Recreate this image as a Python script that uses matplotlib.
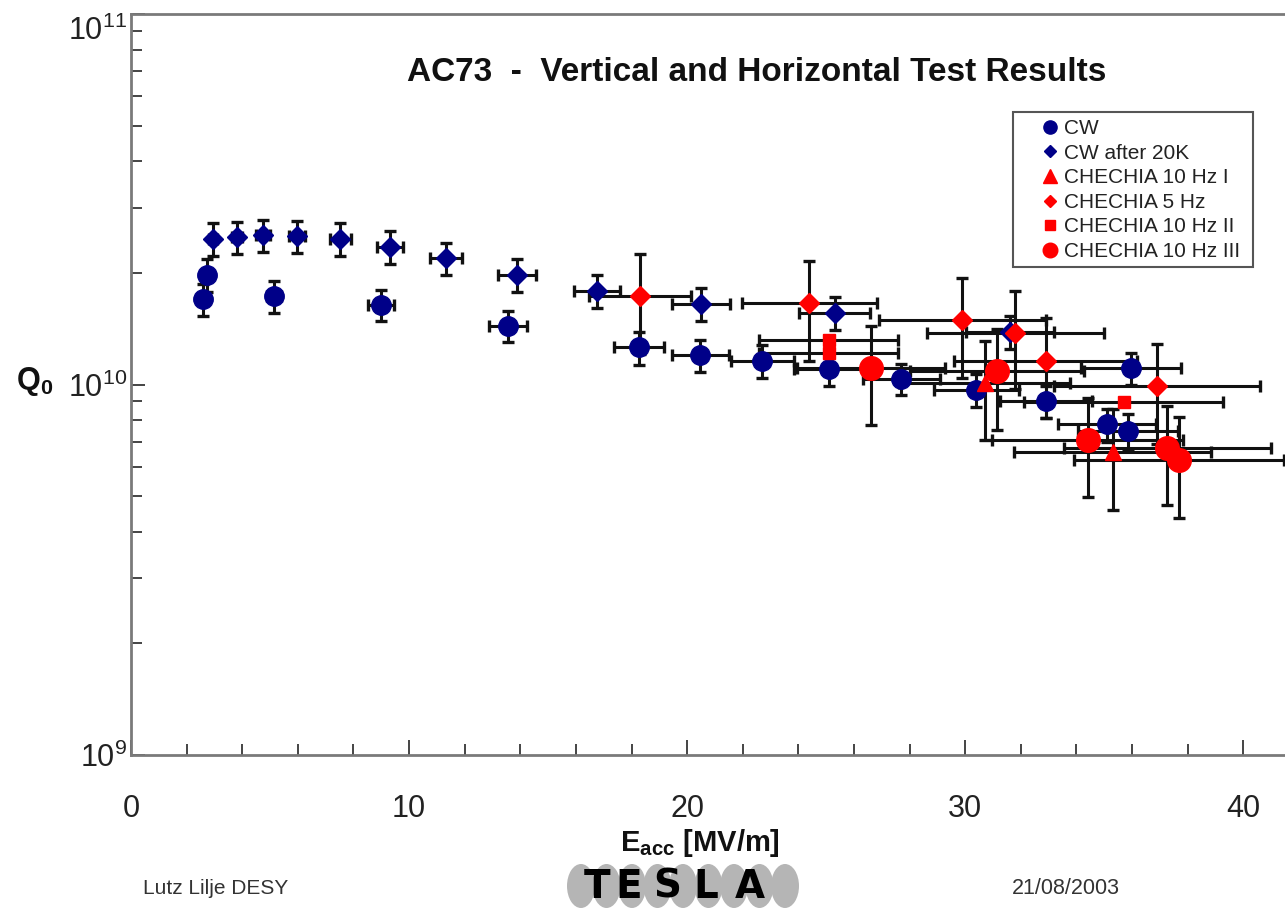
import matplotlib
matplotlib.use("Agg")
import matplotlib.pyplot as plt
from matplotlib.lines import Line2D
from matplotlib.patches import Rectangle, Ellipse
from matplotlib.ticker import MultipleLocator, LogLocator, NullFormatter

# ---------------------------------------------------------------- data
# CW (vertical test)
cw_e = [2.59, 2.73, 5.14, 8.99, 13.56, 18.27, 20.47, 22.7, 25.1, 27.7, 30.4, 32.9, 35.1, 35.85, 35.95]
cw_q = [1.70e10, 1.98e10, 1.73e10, 1.64e10, 1.44e10, 1.26e10, 1.20e10, 1.16e10, 1.10e10,
        1.035e10, 0.967e10, 0.90e10, 0.78e10, 0.75e10, 1.11e10]
cw_e_err = [0.13, 0.14, 0.26, 0.45, 0.68, 0.91, 1.02, 1.14, 1.26, 1.39, 1.52, 1.65, 1.76, 1.79, 1.80]
cw_q_err = [0.17e10, 0.20e10, 0.17e10, 0.16e10, 0.14e10, 0.13e10, 0.12e10, 0.12e10, 0.11e10,
            0.10e10, 0.10e10, 0.09e10, 0.08e10, 0.08e10, 0.11e10]

# CW after 20K
cw20_e = [2.95, 3.81, 4.75, 5.97, 7.52, 9.32, 11.33, 13.88, 16.76, 20.5, 25.3, 31.6]
cw20_q = [2.47e10, 2.50e10, 2.53e10, 2.52e10, 2.47e10, 2.35e10, 2.19e10, 1.98e10, 1.79e10,
          1.65e10, 1.56e10, 1.39e10]
cw20_e_err = [0.15, 0.19, 0.24, 0.30, 0.38, 0.47, 0.57, 0.69, 0.84, 1.03, 1.27, 1.58]
cw20_q_err = [0.25e10, 0.25e10, 0.25e10, 0.25e10, 0.25e10, 0.24e10, 0.22e10, 0.20e10, 0.18e10,
              0.17e10, 0.16e10, 0.14e10]

# CHECHIA 10 Hz I
ch10a_e = [30.7, 35.3]
ch10a_q = [1.01e10, 0.658e10]
ch10a_e_err = [3.07, 3.53]
ch10a_q_err = [0.30e10, 0.20e10]

# CHECHIA 5 Hz
ch5_e = [18.3, 24.4, 29.9, 31.8, 32.9, 36.9]
ch5_q = [1.73e10, 1.66e10, 1.49e10, 1.38e10, 1.16e10, 0.99e10]
ch5_e_err = [1.83, 2.44, 2.99, 3.18, 3.29, 3.69]
ch5_q_err = [0.52e10, 0.50e10, 0.45e10, 0.41e10, 0.35e10, 0.30e10]

# CHECHIA 10 Hz II
ch10b_e = [25.1, 25.1, 35.7]
ch10b_q = [1.32e10, 1.22e10, 0.898e10]
ch10b_e_err = [2.5, 2.5, 3.57]

# CHECHIA 10 Hz III
ch10c_e = [26.6, 31.15, 34.4, 37.27, 37.7]
ch10c_q = [1.108e10, 1.086e10, 0.708e10, 0.674e10, 0.625e10]
ch10c_e_err = [2.66, 3.12, 3.44, 3.73, 3.77]
ch10c_q_err = [0.33e10, 0.33e10, 0.21e10, 0.20e10, 0.19e10]

series_labels = ["CW", "CW after 20K", "CHECHIA 10 Hz I", "CHECHIA 5 Hz",
                 "CHECHIA 10 Hz II", "CHECHIA 10 Hz III"]
x_ticks = [0, 10, 20, 30, 40]
y_ticks = [1e9, 1e10, 1e11]
y_tick_labels = [r"$\mathdefault{10^{9}}$", r"$\mathdefault{10^{10}}$", r"$\mathdefault{10^{11}}$"]

# ---------------------------------------------------------------- fonts
base = "Liberation Sans"
plt.rcParams["font.family"] = [base, "DejaVu Sans"]
plt.rcParams["mathtext.fontset"] = "custom"
plt.rcParams["mathtext.rm"] = base
plt.rcParams["mathtext.bf"] = base + ":bold"
plt.rcParams["mathtext.it"] = base + ":italic"

W, H = 1285, 917


def fx(px):
    return px / W


def fy(py):
    return 1 - py / H


NAVY = "#000088"
RED = "#ff0000"
BAR = "#111111"
SPINE = "#7a7a7a"
TXT = "#222222"

fig = plt.figure(figsize=(W / 100, H / 100), dpi=100)
ax = fig.add_axes([fx(131), fy(755), 1 - fx(131), (755 - 14) / H])
ax.set_yscale("log")
ax.set_xlim(0, 41.5)
ax.set_ylim(1e9, 1e11)

bar_kw = dict(fmt="none", ecolor=BAR, elinewidth=2.2, capsize=4.5, capthick=2.4, zorder=2)
ax.errorbar(cw_e, cw_q, xerr=cw_e_err, yerr=cw_q_err, **bar_kw)
ax.errorbar(cw20_e, cw20_q, xerr=cw20_e_err, yerr=cw20_q_err, **bar_kw)
ax.errorbar(ch10a_e, ch10a_q, xerr=ch10a_e_err, yerr=ch10a_q_err, **bar_kw)
ax.errorbar(ch5_e, ch5_q, xerr=ch5_e_err, yerr=ch5_q_err, **bar_kw)
ax.errorbar(ch10b_e, ch10b_q, xerr=ch10b_e_err, **bar_kw)
ax.errorbar(ch10c_e, ch10c_q, xerr=ch10c_e_err, yerr=ch10c_q_err, **bar_kw)

mk = dict(ls="none", zorder=3)
ax.plot(cw_e, cw_q, marker="o", ms=14, color=NAVY, **mk)
ax.plot(cw20_e, cw20_q, marker="D", ms=10.5, color=NAVY, **mk)
ax.plot(ch10a_e, ch10a_q, marker="^", ms=12, color=RED, **mk)
ax.plot(ch5_e, ch5_q, marker="D", ms=10.5, color=RED, **mk)
ax.plot(ch10b_e, ch10b_q, marker="s", ms=9, color=RED, **mk)
ax.plot(ch10c_e, ch10c_q, marker="o", ms=17, color=RED, **mk)

# axes frame
for side in ("left", "bottom", "top"):
    ax.spines[side].set_color(SPINE)
    ax.spines[side].set_linewidth(2)
ax.spines["right"].set_visible(False)

ax.set_xticks(x_ticks)
ax.xaxis.set_minor_locator(MultipleLocator(2))
# top decade label sits lower, just under the frame corner
ax.set_yticks(y_ticks, labels=y_tick_labels[:2] + [""])
ax.yaxis.set_minor_locator(LogLocator(base=10, subs=range(2, 10)))
ax.yaxis.set_minor_formatter(NullFormatter())
ax.tick_params(axis="x", which="major", direction="in", length=11, width=1.4, color="#444444",
               pad=28, labelsize=22, labelcolor=TXT)
ax.tick_params(axis="x", which="minor", direction="in", length=8, width=1.4, color="#444444")
ax.tick_params(axis="y", which="major", direction="in", length=10, width=1.4, color="#444444",
               pad=3, labelsize=22, labelcolor=TXT)
ax.tick_params(axis="y", which="minor", direction="in", length=8, width=1.4, color="#444444")
fig.text(fx(127), fy(31), y_tick_labels[2], fontsize=22, ha="right", va="center", color=TXT)

ax.text(0.5425, 0.921, "AC73  -  Vertical and Horizontal Test Results", transform=ax.transAxes,
        ha="center", va="center", fontsize=24, fontweight="bold", color="#111111")

fig.text(fx(35), fy(382), r"$\mathbf{Q_0}$", fontsize=22, ha="center", va="center", color="#111111")
fig.text(fx(700), fy(843), r"$\mathbf{E_{acc}}$ [MV/m]", fontsize=21, fontweight="bold",
         ha="center", va="center", color="#111111")

# legend
handles = [
    Line2D([], [], ls="none", marker="o", ms=9.5, color=NAVY),
    Line2D([], [], ls="none", marker="D", ms=6.5, color=NAVY),
    Line2D([], [], ls="none", marker="^", ms=10, color=RED),
    Line2D([], [], ls="none", marker="D", ms=6.5, color=RED),
    Line2D([], [], ls="none", marker="s", ms=7, color=RED),
    Line2D([], [], ls="none", marker="o", ms=10.5, color=RED),
]
leg = fig.legend(handles, series_labels, loc="upper left", bbox_to_anchor=(fx(1042), fy(119)),
                 frameon=False, fontsize=15, handlelength=0.8, handletextpad=0.25,
                 labelspacing=0.27, borderpad=0, borderaxespad=0)
for t in leg.get_texts():
    t.set_color(TXT)
fig.add_artist(Rectangle((fx(1013), fy(267)), fx(1253) - fx(1013), fy(112) - fy(267),
                         transform=fig.transFigure, fill=False, ec="#555555", lw=1.5))

# footer
fig.text(fx(143), fy(888), "Lutz Lilje DESY", fontsize=15, ha="left", va="center", color="#333333")
fig.text(fx(1012), fy(888), "21/08/2003", fontsize=15.5, ha="left", va="center", color="#333333")

logo = fig.add_axes([fx(555), fy(915), 255 / W, 60 / H])
logo.set_xlim(555, 810)
logo.set_ylim(915, 855)
logo.axis("off")
for i in range(9):
    logo.add_patch(Ellipse((581 + i * 25.5, 886), 28, 44, color="#b5b5b5", lw=0))
for ch, cx in zip("TESLA", [597, 629, 667, 706, 750]):
    logo.text(cx, 887, ch, ha="center", va="center", fontsize=28, fontweight="bold",
              family="DejaVu Sans", color="black")

fig.savefig("out.png", dpi=100)
